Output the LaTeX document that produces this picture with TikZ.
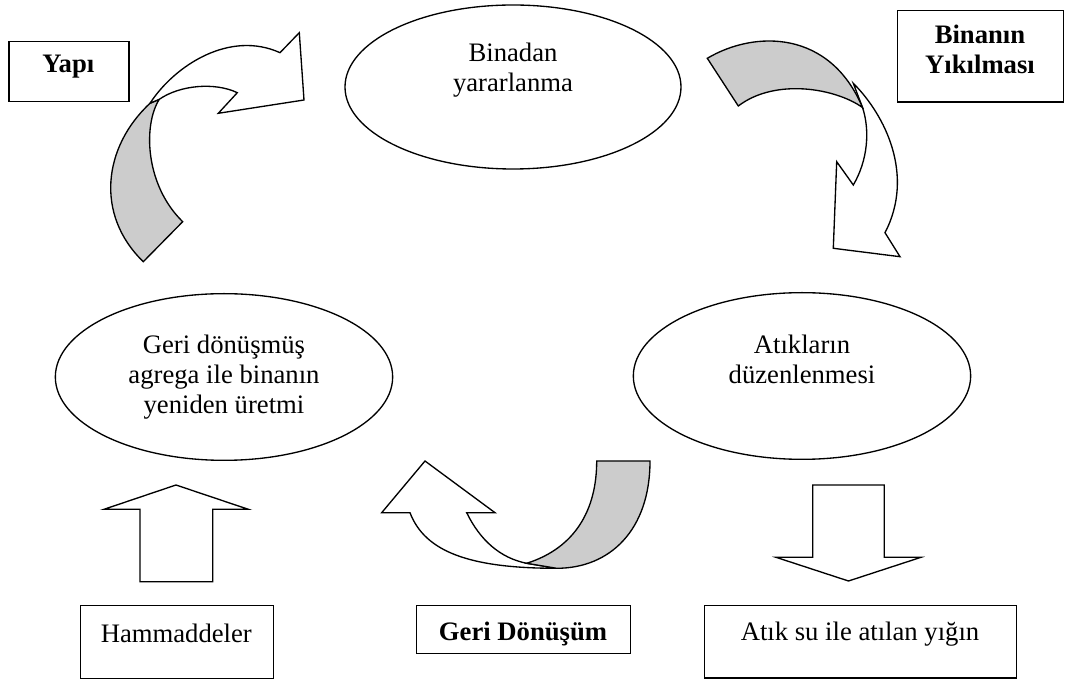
\documentclass[tikz,border=0pt]{standalone}
\usepackage{fontspec}
\setmainfont{Liberation Serif}
\usetikzlibrary{shapes.geometric}
\definecolor{ribbon}{HTML}{CCCCCC}
\begin{document}
\begin{tikzpicture}[x=0.75pt,y=-0.75pt,
  every node/.style={font=\fontsize{20}{22.5}\selectfont},
  ell/.style={draw, line width=1pt, ellipse, minimum width=253pt, minimum height=125pt, inner sep=0pt},
  txt/.style={align=center, anchor=north, inner sep=0pt},
  btxt/.style={txt, font=\fontsize{20}{22.5}\selectfont\bfseries},
  frame/.style={draw, line width=1pt, rectangle, inner sep=0pt, anchor=north west},
  blockarrow/.style={draw, line width=1pt, fill=white, line join=miter},
  backside/.style={draw, line width=1pt, fill=ribbon, line join=miter}
]
\useasboundingbox (0,0) rectangle (1065,680);

% ellipses
\node[ell, minimum width=252pt, minimum height=123pt] (use) at (513,87) {};
\node[txt] (usetxt) at (513,43) {Binadan\\yararlanma};
\node[ell] (reprod) at (224,377) {};
\node[txt] (reprodtxt) at (224,335) {Geri dönüşmüş\\agrega ile binanın\\yeniden üretmi};
\node[ell] (waste) at (802,376) {};
\node[txt] (wastetxt) at (802,335) {Atıkların\\düzenlenmesi};

% boxes
\node[frame, minimum width=90pt, minimum height=45pt] (yapi) at (8.3,41) {};
\node[btxt] (yapitxt) at (68.3,55) {Yapı};
\node[frame, minimum width=124.5pt, minimum height=68.5pt] (yikim) at (897,10) {};
\node[btxt] (yikimtxt) at (980,25) {Binanın\\Yıkılması};
\node[frame, minimum width=144.5pt, minimum height=54.75pt] (ham) at (80,605) {};
\node[txt] (hamtxt) at (176.3,623.3) {Hammaddeler};
\node[frame, minimum width=160.5pt, minimum height=36pt] (geri) at (416,605) {};
\node[btxt] (geritxt) at (523,621.7) {Geri Dönüşüm};
\node[frame, minimum width=234pt, minimum height=54.25pt] (atik) at (704,605) {};
\node[txt] (atiktxt) at (860,621.7) {Atık su ile atılan yığın};

% straight block arrows
\draw[blockarrow] (176,485) -- (248.3,509.3) -- (212.7,509.3) -- (212.7,581.7)
  -- (140,581.7) -- (140,509.3) -- (104,509.3) -- cycle;
\draw[blockarrow] (848.5,581) -- (921,557.3) -- (884.3,557.3) -- (884.3,485)
  -- (812.7,485) -- (812.7,557.3) -- (776,557.3) -- cycle;

% top-left curved arrow
\draw[backside] (143.3,261.7) .. controls (95,215) and (103,147) .. (150,103.3)
  -- (159.3,99.3) .. controls (143,125) and (145,185) .. (182.7,221.7) -- cycle;
\draw[blockarrow] (150,103.3) .. controls (175,65) and (230,30) .. (280,52.7)
  -- (299.3,32.7) -- (304,100) -- (218.3,113.3) -- (237.3,92.7)
  .. controls (215,82) and (180,85) .. (159.3,99.3) -- cycle;

% top-right curved arrow
\draw[blockarrow] (853.3,83.3) .. controls (885,115) and (915,175) .. (885,232.7)
  -- (900,256.7) -- (833.3,248.3) -- (836.7,161.7) -- (853.3,185)
  .. controls (868,160) and (870,130) .. (862.5,107.5) -- cycle;
\draw[backside] (707.3,58.3) .. controls (755,30) and (830,30) .. (862.5,107.5)
  .. controls (835,88) and (775,78) .. (738.3,106) -- cycle;

% bottom curved arrow
\draw[blockarrow] (425,461) -- (381.7,512.7) -- (410,512.7)
  .. controls (425,552) and (470,568.3) .. (556.7,568.3) -- (526.7,563.3)
  .. controls (500,558) and (480,540) .. (466.7,512.7) -- (495,512.7) -- cycle;
\draw[backside] (596.7,461) -- (650,461) .. controls (650,530) and (610,568.3) .. (556.7,568.3)
  -- (526.7,563.3) .. controls (575,548) and (596.7,510) .. (596.7,461) -- cycle;
\end{tikzpicture}
\end{document}
